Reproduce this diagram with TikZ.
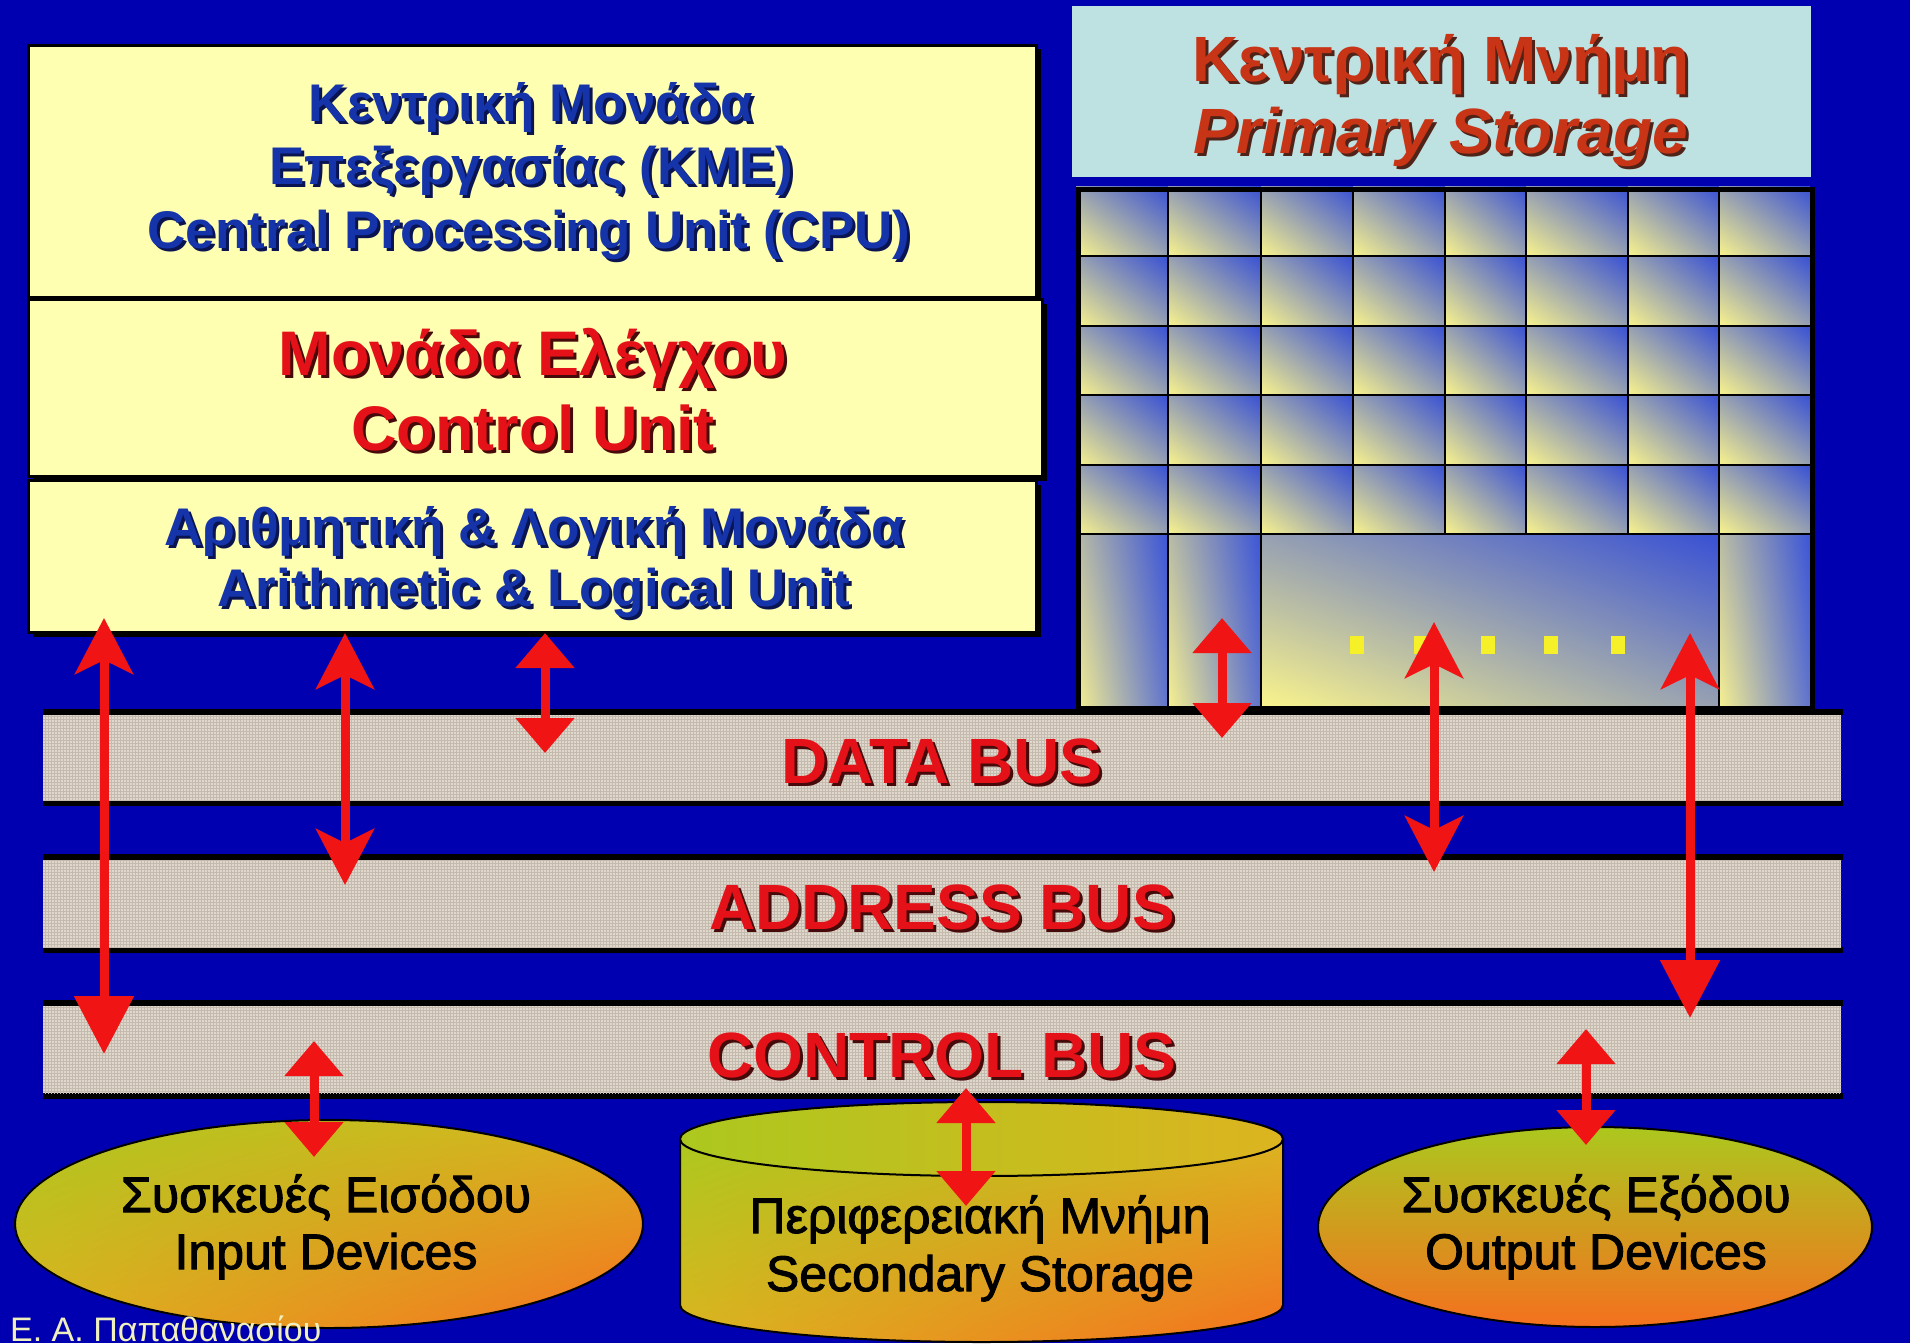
\documentclass[tikz,border=0pt]{standalone}
\usepackage{fontspec}
\setmainfont{Liberation Sans}
\newfontfamily\devfont[FakeBold=2]{Liberation Sans}
\usetikzlibrary{arrows.meta,shapes.geometric,shadows,shadings,patterns}

\definecolor{bg}{RGB}{0,0,176}
\definecolor{cpuyel}{RGB}{255,255,178}
\definecolor{memcyan}{RGB}{190,226,226}
\definecolor{txtblue}{RGB}{22,52,170}
\definecolor{blueshd}{RGB}{10,20,80}
\definecolor{txtred}{RGB}{228,18,24}
\definecolor{redshd}{RGB}{70,10,10}
\definecolor{memred}{RGB}{200,52,22}
\definecolor{memshd}{RGB}{80,35,25}
\definecolor{busfill}{RGB}{224,216,204}
\definecolor{bustex}{RGB}{196,186,174}
\definecolor{arrred}{RGB}{240,20,20}
\definecolor{cellyel}{RGB}{250,244,140}
\definecolor{cellblue}{RGB}{56,80,212}
\definecolor{cellmid}{RGB}{150,160,178}
\definecolor{colul}{RGB}{185,188,165}
\definecolor{colll}{RGB}{246,240,145}
\definecolor{colur}{RGB}{60,85,215}
\definecolor{collr}{RGB}{95,115,205}
\definecolor{devgreen}{RGB}{172,200,30}
\definecolor{devyel}{RGB}{220,180,32}
\definecolor{devorange}{RGB}{245,112,30}
\definecolor{dotyel}{RGB}{245,240,40}
\definecolor{footer}{RGB}{240,240,190}

% text with a small dark drop shadow behind it
\newcommand{\shadowed}[3]{\leavevmode\rlap{\kern#1\raisebox{-#1}{\color{#2}#3}}#3}

\begin{document}
\begin{tikzpicture}[x=1pt,y=-1pt,
  unitbox/.style={anchor=north west, inner sep=0pt, fill=cpuyel, draw=black, line width=3pt,
    general shadow={fill=black, shadow xshift=4pt, shadow yshift=-4pt}},
  memhead/.style={anchor=north west, inner sep=0pt, fill=memcyan},
  memframe/.style={anchor=north west, inner sep=0pt, draw=black, line width=5pt},
  busband/.style={anchor=north west, inner sep=0pt, fill=busfill,
    postaction={pattern=grid, pattern color=bustex}},
  busedge/.style={fill=black},
  cellshade/.style={shading=bilinear interpolation, lower left=cellyel, upper right=cellblue, upper left=cellmid, lower right=cellmid},
  colshade/.style={shading=bilinear interpolation, lower left=colll, upper left=colul, upper right=colur, lower right=collr},
  gridline/.style={draw=black, line width=2.5pt},
  cputxt/.style={anchor=base, inner sep=0pt, text=txtblue, font=\bfseries\fontsize{53}{60}\selectfont},
  ctltxt/.style={anchor=base, inner sep=0pt, text=txtred, font=\bfseries\fontsize{63}{70}\selectfont},
  memtxt/.style={anchor=base, inner sep=0pt, text=memred, font=\bfseries\fontsize{64}{72}\selectfont},
  bustxt/.style={anchor=base, inner sep=0pt, text=txtred, font=\bfseries\fontsize{64}{70}\selectfont},
  devtxt/.style={anchor=base, inner sep=0pt, text=black, font=\devfont\fontsize{50}{56}\selectfont},
  devoval/.style={ellipse, draw=black, line width=2pt, inner sep=0pt},
  busarrow/.style={draw=arrred, line width=9pt},
  headS/.tip={Stealth[width=58pt,length=56pt,inset=14pt]},
  headL/.tip={Triangle[width=58pt,length=58pt]},
  headT/.tip={Triangle[width=57pt,length=35pt]},
]
\useasboundingbox (0,0) rectangle (1910,1343);
\fill[bg] (0,0) rectangle (1910,1343);
\clip (0,0) rectangle (1910,1343);

% ---------- primary storage ----------
\node[memhead, minimum width=739pt, minimum height=171pt] (memhdr) at (1072,6) {};

\foreach \xa/\xb in {1076/1168,1168/1261,1261/1353,1353/1445,1445/1526,1526/1628,1628/1719,1719/1810}
  \foreach \ya/\yb in {187/256,256/326,326/395,395/465,465/534}
    \shade[cellshade] (\xa,\ya) rectangle (\xb,\yb);
\shade[colshade] (1076,534) rectangle (1168,706);
\shade[colshade] (1168,534) rectangle (1261,706);
\shade[cellshade] (1261,534) rectangle (1719,706);
\shade[colshade] (1719,534) rectangle (1810,706);
\foreach \x in {1353,1445,1526,1628} \draw[gridline] (\x,187) -- (\x,534);
\foreach \x in {1168,1261,1719} \draw[gridline] (\x,187) -- (\x,706);
\foreach \y in {256,326,395,465,534} \draw[gridline] (1076,\y) -- (1810,\y);
\node[memframe, minimum width=734pt, minimum height=519pt] (memgrid) at (1076,187) {};
\foreach \x in {1357,1421,1488,1551,1618}
  \fill[dotyel] (\x-7,636) rectangle (\x+7,654);

% ---------- CPU ----------
\node[unitbox, minimum width=1008pt, minimum height=252pt] (cpu) at (27,44) {};
\node[unitbox, minimum width=1014pt, minimum height=177pt] (ctl) at (27,298) {};
\node[unitbox, minimum width=1008pt, minimum height=152pt] (alu) at (27,479) {};

% ---------- buses ----------
\fill[busedge] (43,709) rectangle (1843,715);
\fill[busedge] (43,800) rectangle (1843,806);
\node[busband, minimum width=1798pt, minimum height=85pt] (dbus) at (43,715) {};
\fill[busedge] (43,854) rectangle (1843,860);
\fill[busedge] (43,947) rectangle (1843,953);
\node[busband, minimum width=1798pt, minimum height=87pt] (abus) at (43,860) {};
\fill[busedge] (43,1000) rectangle (1843,1006);
\fill[busedge] (43,1093) rectangle (1843,1099);
\node[busband, minimum width=1798pt, minimum height=87pt] (cbus) at (43,1006) {};

% ---------- secondary storage cylinder ----------
\shade[shading=bilinear interpolation, upper left=devgreen, upper right=devyel, lower left=devyel, lower right=devorange,
  draw=black, line width=2pt]
  (680,1139) -- (680,1305) arc[start angle=180, end angle=0, x radius=301.5, y radius=37]
  -- (1283,1139) -- cycle;
\node[devoval, minimum width=603pt, minimum height=74pt,
  left color=devgreen, right color=devyel] (cyltop) at (981.5,1139) {};

% ---------- input / output devices ----------
\node[devoval, minimum width=628pt, minimum height=208pt, shading=bilinear interpolation,
  upper left=devgreen, upper right=devyel, lower left=devyel, lower right=devorange] (indev) at (329,1224) {};
\node[devoval, minimum width=554pt, minimum height=200pt,
  top color=devgreen, middle color=devyel, bottom color=devorange] (outdev) at (1595,1227) {};

% ---------- labels ----------
\node[cputxt] (cpuA) at (531,122) {\shadowed{3pt}{blueshd}{Κεντρική Μονάδα}};
\node[cputxt] (cpuB) at (531,185) {\shadowed{3pt}{blueshd}{Επεξεργασίας (ΚΜΕ)}};
\node[cputxt] (cpuC) at (529,248) {\shadowed{3pt}{blueshd}{Central Processing Unit (CPU)}};
\node[ctltxt] (ctlA) at (533,375) {\shadowed{3pt}{redshd}{Μονάδα Ελέγχου}};
\node[ctltxt] (ctlB) at (533,450) {\shadowed{3pt}{redshd}{Control Unit}};
\node[cputxt] (aluA) at (534,545) {\shadowed{3pt}{blueshd}{Αριθμητική \& Λογική Μονάδα}};
\node[cputxt] (aluB) at (534,606) {\shadowed{3pt}{blueshd}{Arithmetic \& Logical Unit}};
\node[memtxt] (memA) at (1441,82) {\shadowed{3pt}{memshd}{Κεντρική Μνήμη}};
\node[memtxt, font=\bfseries\itshape\fontsize{64}{72}\selectfont] (memB) at (1441,154) {\shadowed{3pt}{memshd}{Primary Storage}};
\node[bustxt] (dataL) at (942,783) {\shadowed{3pt}{redshd}{DATA BUS}};
\node[bustxt] (addrL) at (942,929) {\shadowed{3pt}{redshd}{ADDRESS BUS}};
\node[bustxt] (ctrlL) at (942,1077) {\shadowed{3pt}{redshd}{CONTROL BUS}};
\node[devtxt] (inA) at (326,1212) {Συσκευές Εισόδου};
\node[devtxt] (inB) at (326,1269) {Input Devices};
\node[devtxt] (secA) at (980,1233) {Περιφερειακή Μνήμη};
\node[devtxt] (secB) at (980,1291) {Secondary Storage};
\node[devtxt] (outA) at (1596,1212) {Συσκευές Εξόδου};
\node[devtxt] (outB) at (1596,1269) {Output Devices};
\node[anchor=base west, inner sep=0pt, text=footer, font=\fontsize{34}{40}\selectfont] (author) at (10,1341) {Ε. Α. Παπαθανασίου};

% ---------- bus connections ----------
\coordinate (a1t) at (104,618);  \coordinate (a1b) at (104,1054);
\coordinate (a2t) at (345,633);  \coordinate (a2b) at (345,885);
\coordinate (a3t) at (545,633);  \coordinate (a3b) at (545,753);
\coordinate (a4t) at (314,1041); \coordinate (a4b) at (314,1157);
\coordinate (a5t) at (1222,618); \coordinate (a5b) at (1222,738);
\coordinate (a6t) at (1434,622); \coordinate (a6b) at (1434,872);
\coordinate (a7t) at (1690,633); \coordinate (a7b) at (1690,1018);
\coordinate (a8t) at (1586,1029); \coordinate (a8b) at (1586,1145);
\coordinate (a9t) at (966,1088); \coordinate (a9b) at (966,1206);

\draw[busarrow, headS-headL] (a1t) -- (a1b);
\draw[busarrow, headS-headS] (a2t) -- (a2b);
\draw[busarrow, headT-headT] (a3t) -- (a3b);
\draw[busarrow, headT-headT] (a4t) -- (a4b);
\draw[busarrow, headT-headT] (a5t) -- (a5b);
\draw[busarrow, headS-headS] (a6t) -- (a6b);
\draw[busarrow, headS-headL] (a7t) -- (a7b);
\draw[busarrow, headT-headT] (a8t) -- (a8b);
\draw[busarrow, headT-headT] (a9t) -- (a9b);
\end{tikzpicture}
\end{document}
